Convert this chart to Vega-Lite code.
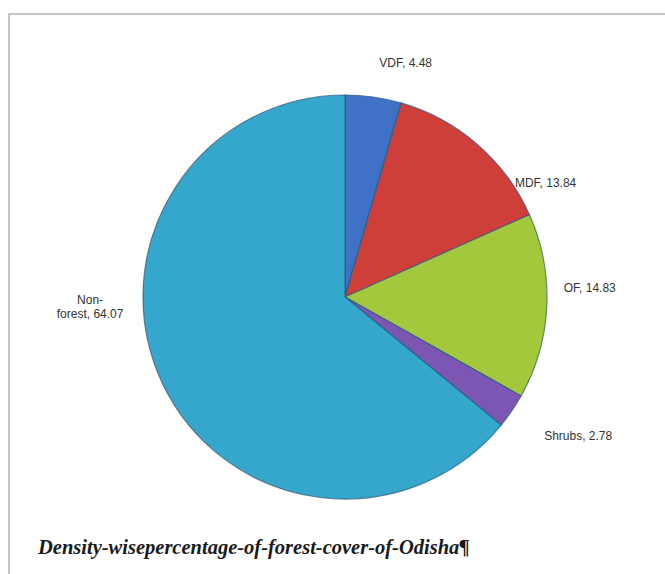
{
  "$schema": "https://vega.github.io/schema/vega-lite/v6.json",
  "autosize": "none",
  "width": 672,
  "height": 566,
  "padding": {"left": 9, "top": 14, "right": 0, "bottom": 0},
  "background": "#ffffff",
  "view": {"stroke": "#c4c4c4", "strokeWidth": 2},
  "title": {
    "text": "Density-wisepercentage-of-forest-cover-of-Odisha¶",
    "orient": "bottom",
    "anchor": "start",
    "frame": "group",
    "offset": -42,
    "dx": 29,
    "font": "Liberation Serif",
    "fontSize": 20.5,
    "fontStyle": "italic",
    "fontWeight": "bold",
    "color": "#1a1a1a"
  },
  "data": {
    "values": [
      {"cat": "VDF", "value": 4.48, "ord": 1, "label": "VDF, 4.48"},
      {"cat": "MDF", "value": 13.84, "ord": 2, "label": "MDF, 13.84"},
      {"cat": "OF", "value": 14.83, "ord": 3, "label": "OF, 14.83"},
      {"cat": "Shrubs", "value": 2.78, "ord": 4, "label": "Shrubs, 2.78"},
      {"cat": "Non-forest", "value": 64.07, "ord": 5, "label": "Non-\nforest, 64.07"}
    ]
  },
  "encoding": {
    "theta": {"field": "value", "type": "quantitative", "stack": true},
    "order": {"field": "ord", "type": "ordinal"}
  },
  "layer": [
    {
      "mark": {"type": "arc", "outerRadius": 202, "stroke": "#2b5a78", "strokeWidth": 1.2, "strokeOpacity": 0.7},
      "encoding": {
        "color": {
          "field": "cat",
          "type": "nominal",
          "legend": null,
          "scale": {
            "domain": ["VDF", "MDF", "OF", "Shrubs", "Non-forest"],
            "range": ["#3f72c6", "#cf3f3a", "#a3c83c", "#7d55b3", "#35a6cc"]
          }
        }
      }
    },
    {
      "mark": {"type": "text", "radius": 240, "dx": 27, "dy": 4, "font": "Liberation Sans", "fontSize": 12, "color": "#333333"},
      "encoding": {"text": {"condition": {"test": "datum.cat === 'VDF'", "field": "label"}, "value": ""}}
    },
    {
      "mark": {"type": "text", "radius": 240, "dx": 43, "dy": 67, "font": "Liberation Sans", "fontSize": 12, "color": "#333333"},
      "encoding": {"text": {"condition": {"test": "datum.cat === 'MDF'", "field": "label"}, "value": ""}}
    },
    {
      "mark": {"type": "text", "radius": 240, "dx": 5, "dy": -20, "font": "Liberation Sans", "fontSize": 12, "color": "#333333"},
      "encoding": {"text": {"condition": {"test": "datum.cat === 'OF'", "field": "label"}, "value": ""}}
    },
    {
      "mark": {"type": "text", "radius": 240, "dx": 35, "dy": 4, "font": "Liberation Sans", "fontSize": 12, "color": "#333333"},
      "encoding": {"text": {"condition": {"test": "datum.cat === 'Shrubs'", "field": "label"}, "value": ""}}
    },
    {
      "mark": {"type": "text", "radius": 240, "dx": -38, "dy": -100, "lineBreak": "\n", "font": "Liberation Sans", "fontSize": 12, "color": "#333333"},
      "encoding": {"text": {"condition": {"test": "datum.cat === 'Non-forest'", "field": "label"}, "value": ""}}
    }
  ]
}
